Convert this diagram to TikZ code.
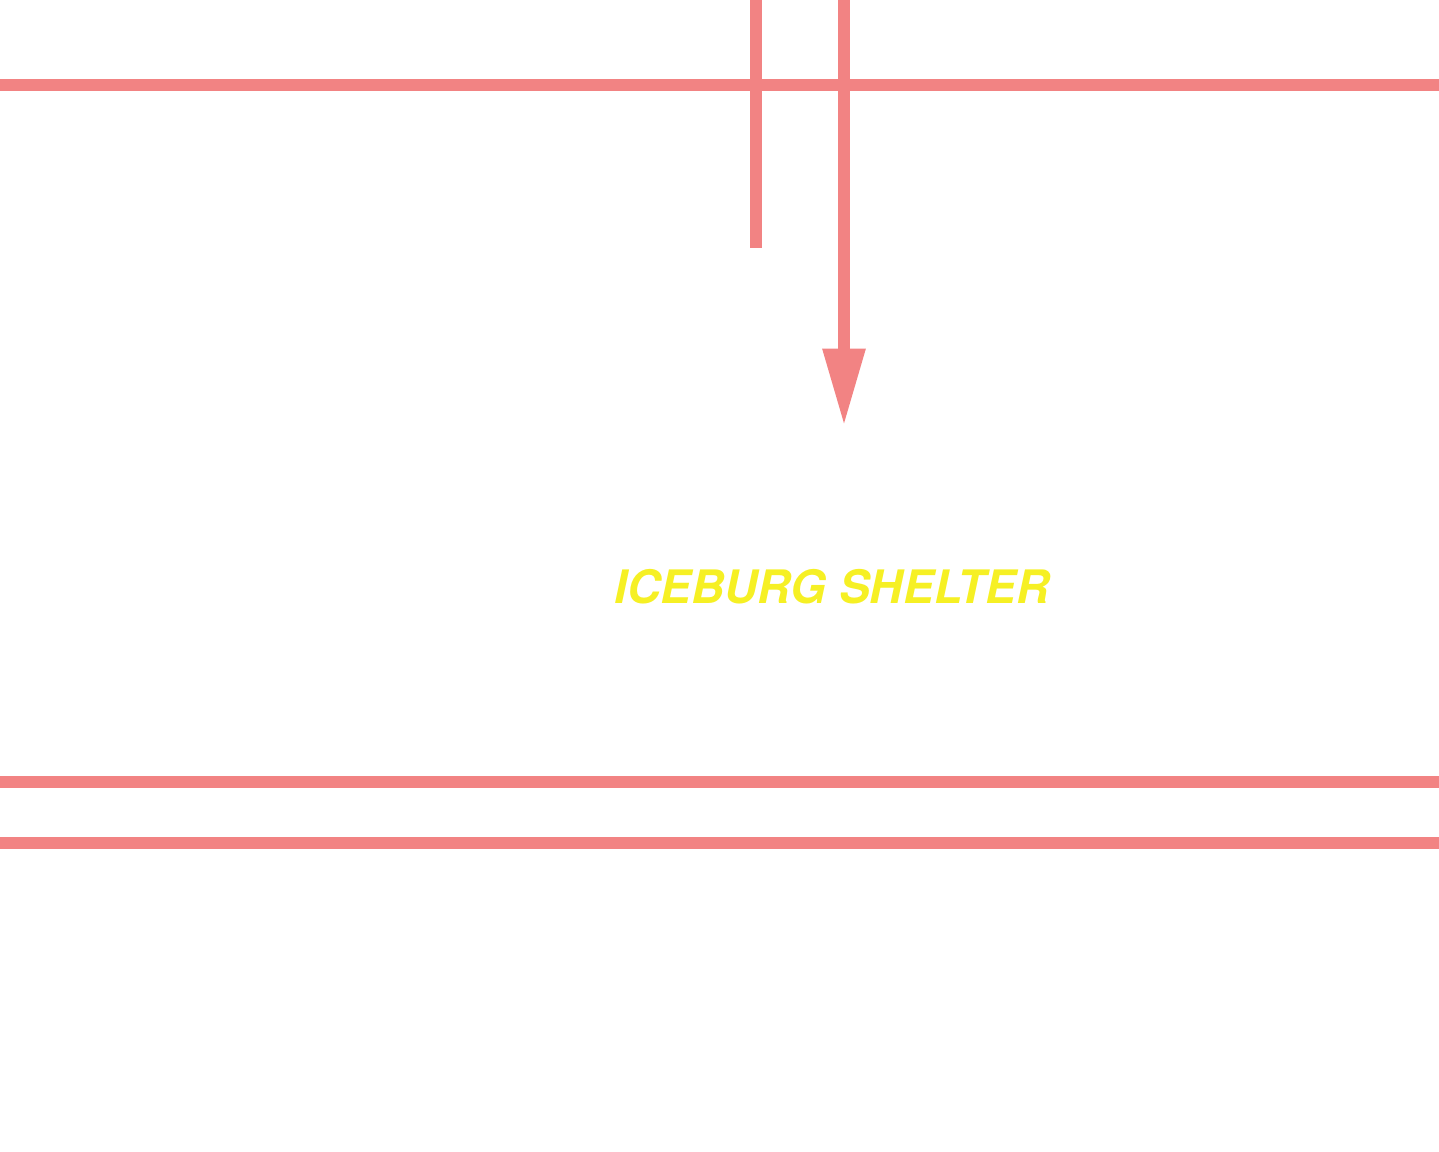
\documentclass[tikz,border=0pt]{standalone}
\usepackage{fontspec}
\usetikzlibrary{arrows.meta}
\newfontfamily\signfont{TeX Gyre Heros}
\definecolor{roadcol}{RGB}{242,131,131}
\definecolor{signcol}{RGB}{246,240,36}

\begin{document}
\begin{tikzpicture}[x=0.75pt, y=-0.75pt, >={Triangle[length=58pt, width=30pt]}]

	% --- Parameters ---
	\def\W{1439}
	\def\H{1152}
	\def\roadW{9pt}

	\useasboundingbox (0,0) rectangle (\W,\H);
	\clip (0,0) rectangle (\W,\H);

	% =============================================
	%  ROADS
	% =============================================

	% --- Horizontal roads ---
	\foreach \y in {85, 782, 843} {
			\draw[roadcol, line width=\roadW] (0,\y) -- (\W,\y);
		}

	% --- Vertical road stub ---
	\coordinate (stubTop) at (755.5,-10);
	\coordinate (stubEnd) at (755.5,248);
	\draw[roadcol, line width=\roadW] (stubTop) -- (stubEnd);

	% --- Vertical road with arrow ---
	\coordinate (arrTop) at (844,-10);
	\coordinate (arrEnd) at (844,426);
	\draw[roadcol, line width=\roadW, ->] (arrTop) -- (arrEnd);

	% =============================================
	%  LABEL
	% =============================================

	\node[anchor=base, inner sep=0pt, text=signcol,
		font=\signfont\fontsize{34.6pt}{40pt}\selectfont\bfseries\itshape]
	(shelter) at (832,603) {ICEBURG SHELTER};

\end{tikzpicture}
\end{document}
